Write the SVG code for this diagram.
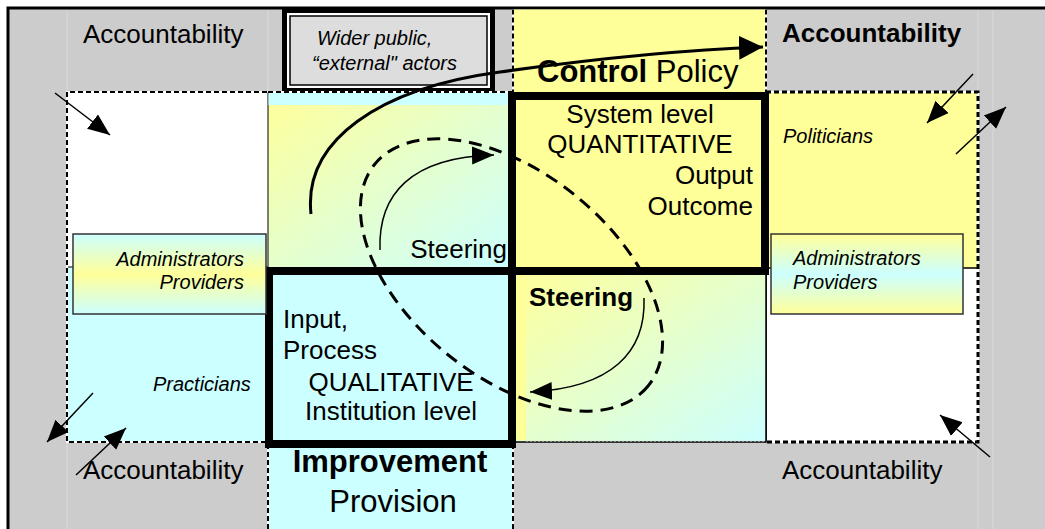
<svg xmlns="http://www.w3.org/2000/svg" width="1045" height="529" viewBox="0 0 1045 529">
<defs>
<linearGradient id="gDiag" x1="0" y1="0" x2="1" y2="1">
<stop offset="0" stop-color="#FFFF99"/>
<stop offset="1" stop-color="#CCFFFF"/>
</linearGradient>
<linearGradient id="gCYC" x1="0" y1="0" x2="0" y2="1">
<stop offset="0" stop-color="#CCFFFF"/>
<stop offset="0.5" stop-color="#FFFF99"/>
<stop offset="1" stop-color="#CCFFFF"/>
</linearGradient>
<linearGradient id="gYCY" x1="0" y1="0" x2="0" y2="1">
<stop offset="0" stop-color="#FFFF99"/>
<stop offset="0.5" stop-color="#CCFFFF"/>
<stop offset="1" stop-color="#FFFF99"/>
</linearGradient>
<marker id="ah" markerUnits="userSpaceOnUse" markerWidth="22" markerHeight="20" viewBox="0 0 22 20" refX="22" refY="10" orient="auto">
<path d="M0,1 L22,10 L0,19 z" fill="#000"/>
</marker>
<marker id="ahBig" markerUnits="userSpaceOnUse" markerWidth="24" markerHeight="24" viewBox="0 0 24 24" refX="24" refY="12" orient="auto">
<path d="M0,0 L24,12 L0,24 z" fill="#000"/>
</marker>
<style>
.t{font-family:"Liberation Sans",Arial,sans-serif;fill:#000}
.r26{font-size:26px}
.b26{font-size:26px;font-weight:bold}
.i20{font-size:20px;font-style:italic}
.b31{font-size:31px;font-weight:bold}
.r31{font-size:31px}
.dbg{stroke:#fff;stroke-width:2;fill:none}
.dash{stroke:#000;stroke-width:2;stroke-dasharray:5 3;fill:none}
.thick{fill:none;stroke:#000;stroke-width:8}
.thin{stroke:#000;stroke-width:1.5;fill:none}
.faint{stroke:#dadada;stroke-width:1}
</style>
</defs>

<g id="background">
<rect x="8" y="8" width="1045" height="530" fill="#CCCCCC" stroke="#000" stroke-width="3"/>
<line class="faint" x1="67" y1="10" x2="67" y2="92"/>
<line class="faint" x1="268" y1="10" x2="268" y2="92"/>
<line class="faint" x1="67" y1="443" x2="67" y2="529"/>
<line class="faint" x1="978" y1="10" x2="978" y2="92"/>
<line class="faint" x1="993" y1="10" x2="993" y2="529"/>
<line class="faint" x1="978" y1="443" x2="978" y2="529"/>
</g>

<g id="policy-column">
<rect x="513" y="9.5" width="253" height="83" fill="#FFFF99"/>
<line class="dbg" x1="513" y1="9.5" x2="513" y2="92"/>
<line class="dash" x1="513" y1="9.5" x2="513" y2="92"/>
<line class="dbg" x1="766" y1="9.5" x2="766" y2="92"/>
<line class="dash" x1="766" y1="9.5" x2="766" y2="92"/>
<text class="t b31" x="537" y="82">Control<tspan style="font-weight:normal"> Policy</tspan></text>
</g>

<g id="wider-public">
<rect x="284.5" y="10.5" width="208" height="80" fill="#fff" stroke="#000" stroke-width="5"/>
<rect x="290" y="16" width="197" height="69" fill="#DDDDDD" stroke="#000" stroke-width="1.5"/>
<text class="t i20" x="317" y="45">Wider public,</text>
<text class="t i20" x="312" y="70">“external" actors</text>
</g>

<g id="left-region">
<rect x="67" y="92" width="201" height="175" fill="#fff"/>
<rect x="67" y="267" width="201" height="175" fill="#CCFFFF" stroke="#000" stroke-width="1"/>
<polyline class="dbg" points="283,92 67,92 67,442 268,442"/>
<polyline class="dash" points="283,92 67,92 67,442 268,442"/>
<text class="t i20" x="153" y="391">Practicians</text>
</g>

<g id="right-region">
<rect x="766" y="92" width="212" height="176" fill="#FFFF99"/>
<rect x="766" y="268" width="212" height="174" fill="#fff" stroke="#000" stroke-width="1.5"/>
<polyline class="dbg" points="766,92 978,92 978,442 766,442"/>
<polyline class="dash" points="766,92 978,92 978,442 766,442" style="stroke-width:3"/>
<text class="t i20" x="783" y="143">Politicians</text>
</g>

<g id="steering-top">
<rect x="268" y="93" width="242" height="175" fill="url(#gDiag)" stroke="#000" stroke-width="1"/>
<rect x="268.5" y="93" width="241" height="12" fill="#CCFFFF"/>
<line class="dbg" x1="268" y1="92" x2="512" y2="92"/>
<line class="dash" x1="268" y1="92" x2="512" y2="92"/>
<text class="t r26" x="507" y="258" text-anchor="end">Steering</text>
</g>

<g id="steering-bottom">
<rect x="513" y="271" width="253" height="171" fill="url(#gDiag)" stroke="#000" stroke-width="1.5"/>
<rect x="516" y="275" width="10" height="165" fill="#FFFF99"/>
<line x1="526" y1="441" x2="765" y2="441" stroke="#e0e0e0" stroke-width="1" stroke-dasharray="2 2"/>
<text class="t b26" x="529" y="306">Steering</text>
</g>

<g id="improvement-column">
<rect x="268" y="444" width="245" height="90" fill="#CCFFFF"/>
<line class="dbg" x1="268" y1="444" x2="268" y2="529"/>
<line class="dash" x1="268" y1="444" x2="268" y2="529"/>
<line class="dbg" x1="513" y1="444" x2="513" y2="529"/>
<line class="dash" x1="513" y1="444" x2="513" y2="529"/>
<text class="t b31" x="390" y="472" text-anchor="middle">Improvement</text>
<text class="t r31" x="393" y="512" text-anchor="middle">Provision</text>
</g>

<g id="system-level">
<rect class="thick" x="512" y="96" width="253" height="175" fill="#FFFF99" style="fill:#FFFF99"/>
<text class="t r26" x="640" y="123" text-anchor="middle">System level</text>
<text class="t r26" x="640" y="153" text-anchor="middle">QUANTITATIVE</text>
<text class="t r26" x="753" y="184" text-anchor="end">Output</text>
<text class="t r26" x="753" y="215" text-anchor="end">Outcome</text>
</g>

<g id="institution-level">
<rect class="thick" x="269" y="271" width="243" height="173" style="fill:#CCFFFF"/>
<text class="t r26" x="283" y="328">Input,</text>
<text class="t r26" x="283" y="359">Process</text>
<text class="t r26" x="391" y="391" text-anchor="middle">QUALITATIVE</text>
<text class="t r26" x="391" y="420" text-anchor="middle">Institution level</text>
</g>

<g id="admin-left">
<rect x="73" y="234" width="193" height="80" fill="url(#gCYC)" stroke="#333" stroke-width="1.5"/>
<text class="t i20" x="244" y="266" text-anchor="end">Administrators</text>
<text class="t i20" x="244" y="289" text-anchor="end">Providers</text>
</g>

<g id="admin-right">
<rect x="771" y="234" width="192" height="80" fill="url(#gYCY)" stroke="#333" stroke-width="1.5"/>
<text class="t i20" x="793" y="265">Administrators</text>
<text class="t i20" x="793" y="289">Providers</text>
</g>

<g id="accountability-labels">
<text class="t r26" x="83" y="43">Accountability</text>
<text class="t b26" x="782" y="42">Accountability</text>
<text class="t r26" x="83" y="479">Accountability</text>
<text class="t r26" x="782" y="479">Accountability</text>
</g>

<g id="connectors">
<ellipse cx="511.5" cy="275" rx="176" ry="102" transform="rotate(39 511.5 275)" fill="none" stroke="#000" stroke-width="3" stroke-dasharray="13 8"/>
<path d="M311,214 C303,140 380,88 500,72 C600,58 680,50 763,47" fill="none" stroke="#000" stroke-width="3" marker-end="url(#ahBig)"/>
<path class="thin" d="M380,250 C378,195 410,157 494,155" marker-end="url(#ah)"/>
<path class="thin" d="M644,298 C646,352 612,388 530,392" marker-end="url(#ah)"/>
<line class="thin" x1="55" y1="93" x2="110" y2="135" marker-end="url(#ah)"/>
<line class="thin" x1="973" y1="74" x2="927" y2="123" marker-end="url(#ah)"/>
<line class="thin" x1="956" y1="154" x2="1006" y2="107" marker-end="url(#ah)"/>
<line class="thin" x1="93" y1="393" x2="47" y2="442" marker-end="url(#ah)"/>
<line class="thin" x1="76" y1="475" x2="126" y2="428" marker-end="url(#ah)"/>
<line class="thin" x1="990" y1="457" x2="940" y2="415" marker-end="url(#ah)"/>
</g>
</svg>
